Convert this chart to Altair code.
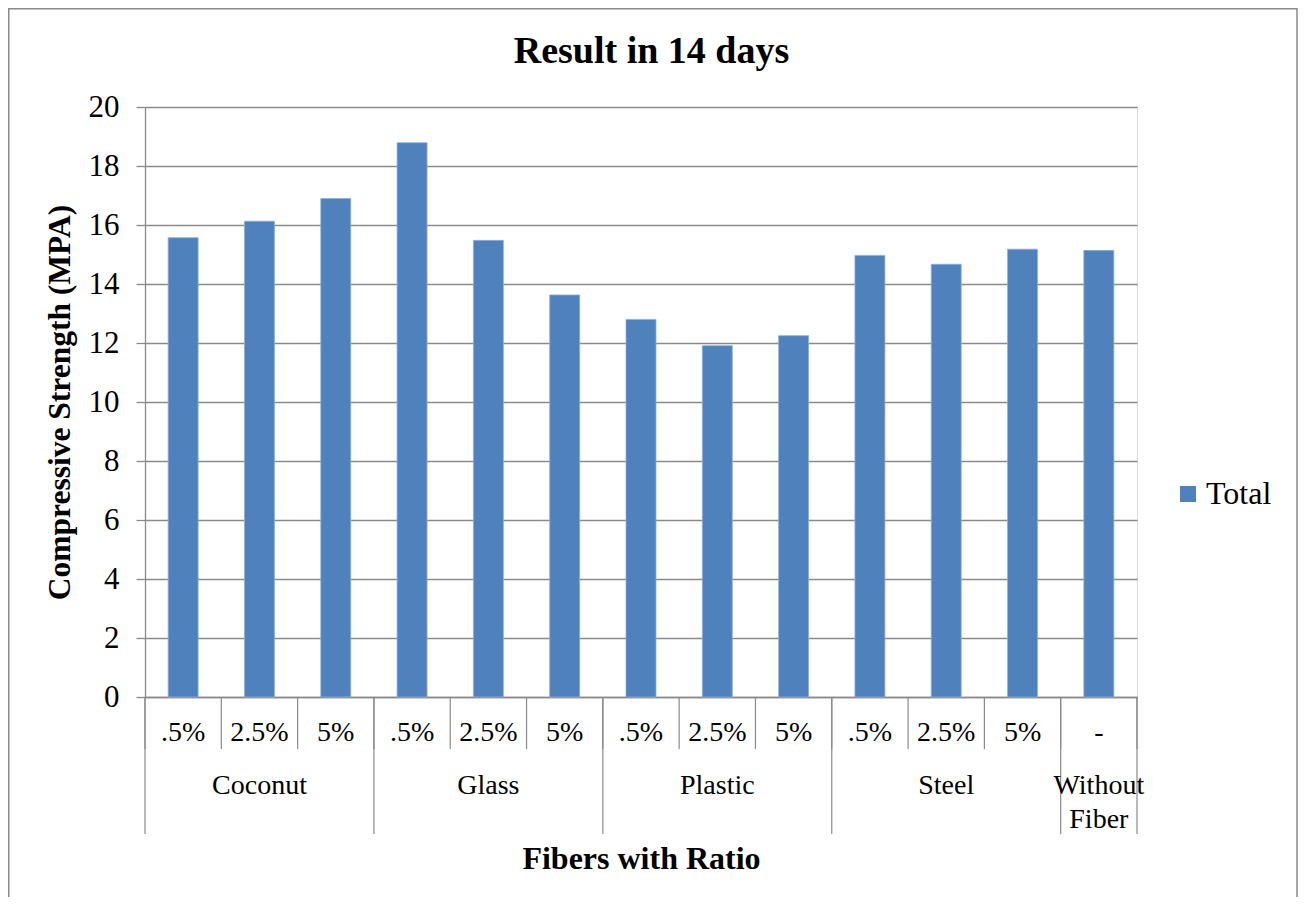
import altair as alt
import pandas as pd

# ---- data ----
groups = ["Coconut", "Coconut", "Coconut", "Glass", "Glass", "Glass",
          "Plastic", "Plastic", "Plastic", "Steel", "Steel", "Steel", "Without Fiber"]
ratios = [".5%", "2.5%", "5%", ".5%", "2.5%", "5%", ".5%", "2.5%", "5%",
          ".5%", "2.5%", "5%", "-"]
values = [15.57, 16.13, 16.90, 18.79, 15.48, 13.63, 12.80, 11.91, 12.25,
          14.97, 14.67, 15.18, 15.14]
group_labels = {"Coconut": "Coconut", "Glass": "Glass", "Plastic": "Plastic",
                "Steel": "Steel", "Without Fiber": "Without\nFiber"}
y_ticks = [0, 2, 4, 6, 8, 10, 12, 14, 16, 18, 20]
title_text = ["Result in 14 days"]

FONT = "Liberation Serif"
GRID = "#8a8a8a"
BAR = "#4F81BD"

df = pd.DataFrame({"idx": list(range(len(values))), "group": groups,
                   "ratio": ratios, "value": values, "series": "Total"})

# group label positions (centre of each group's bars)
gdf = df.groupby("group", sort=False)["idx"].agg(["min", "max"]).reset_index()
gdf["center"] = (gdf["min"] + gdf["max"]) / 2
gdf["label"] = gdf["group"].map(group_labels)

# separator positions
n = len(values)
short_sep = pd.DataFrame({"pos": [k + 0.5 for k in range(-1, n)]})
long_pos = [-0.5] + [k + 0.5 for k in range(n - 1) if groups[k] != groups[k + 1]] + [n - 0.5]
long_sep = pd.DataFrame({"pos": long_pos})

xscale = alt.Scale(domain=[-0.5, n - 0.5], nice=False, zero=False, padding=0)
yscale = alt.Scale(domain=[0, 20], nice=False)

frame = alt.Chart(pd.DataFrame({"a": [0]})).mark_rect(
    fill=None, stroke=GRID, strokeWidth=1.5
).encode(x=alt.value(-136.25), x2=alt.value(1152), y=alt.value(-98.25), y2=alt.value(810))

title = alt.Chart(pd.DataFrame({"t": title_text})).mark_text(
    font=FONT, fontSize=38, fontWeight="bold", color="black", baseline="alphabetic"
).encode(x=alt.value(506.5), y=alt.value(-44), text="t:N")

bars = alt.Chart(df).mark_bar(size=30, stroke="#8fb0d9", strokeWidth=0.8).encode(
    x=alt.X("idx:Q", scale=xscale,
            axis=alt.Axis(labels=False, ticks=False, grid=False, domain=True,
                          domainColor=GRID, domainWidth=1.3,
                          title="Fibers with Ratio", titleFont=FONT, titleFontSize=32,
                          titleFontWeight="bold", titleColor="black",
                          titleY=171, titleBaseline="alphabetic")),
    y=alt.Y("value:Q", scale=yscale,
            axis=alt.Axis(values=y_ticks, grid=True, gridColor=GRID, gridWidth=1.3,
                          domainColor=GRID, domainWidth=1.3, tickColor=GRID, tickWidth=1.3,
                          tickSize=9, labelPadding=17, labelFont=FONT, labelFontSize=31,
                          labelColor="black",
                          title="Compressive Strength (MPA)", titleFont=FONT,
                          titleFontSize=31.5, titleFontWeight="bold", titleColor="black",
                          titleAngle=270, titleX=-85, titleY=295,
                          titleAlign="center", titleBaseline="middle")),
    color=alt.Color("series:N", scale=alt.Scale(range=[BAR]),
                    legend=alt.Legend(title=None, orient="none", legendX=1027, legendY=371,
                                      symbolType="square", symbolSize=256,
                                      symbolStrokeWidth=0, labelFont=FONT,
                                      labelFontSize=32, labelColor="black", labelOffset=2)),
)

short_rules = alt.Chart(short_sep).mark_rule(color=GRID, strokeWidth=1.2).encode(
    x=alt.X("pos:Q", scale=xscale), y=alt.value(590), y2=alt.value(642))
long_rules = alt.Chart(long_sep).mark_rule(color=GRID, strokeWidth=1.2).encode(
    x=alt.X("pos:Q", scale=xscale), y=alt.value(590), y2=alt.value(727))

sub_text = alt.Chart(df).mark_text(font=FONT, fontSize=28, color="black",
                                   baseline="middle").encode(
    x=alt.X("idx:Q", scale=xscale), y=alt.value(626), text="ratio:N")
grp_text = alt.Chart(gdf).mark_text(font=FONT, fontSize=28, color="black",
                                    baseline="top", lineBreak="\n", lineHeight=34).encode(
    x=alt.X("center:Q", scale=xscale), y=alt.value(665), text="label:N")

chart = alt.layer(frame, title, bars, short_rules, long_rules, sub_text, grp_text).properties(
    width=992, height=590,
    autosize=alt.AutoSizeParams(type="none"),
    padding={"left": 137, "top": 99, "right": 161, "bottom": 200},
).configure_view(stroke=None).configure(background="white")

chart.save("out.html", embed_options={"renderer": "svg", "actions": False})
